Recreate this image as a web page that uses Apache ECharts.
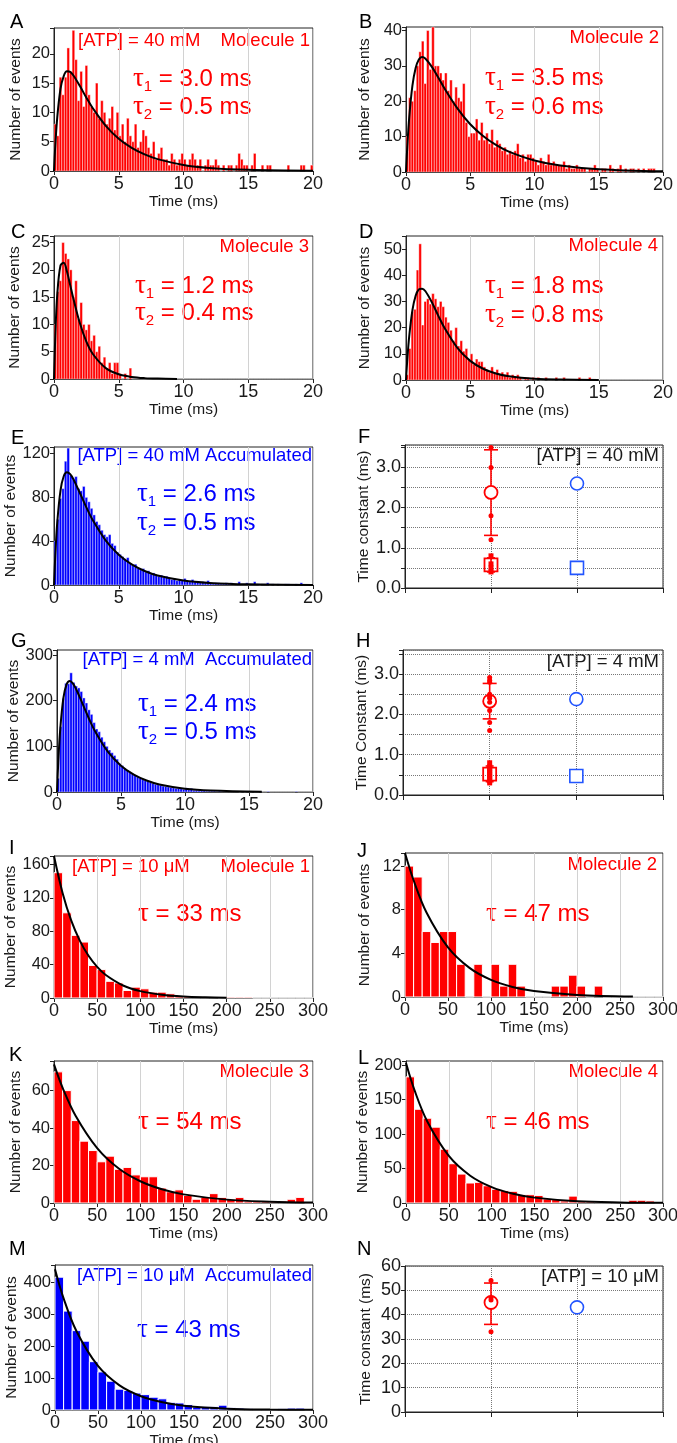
<!DOCTYPE html>
<html><head><meta charset="utf-8">
<script src="https://cdn.jsdelivr.net/npm/echarts@6/dist/echarts.min.js"></script>
<style>html,body{margin:0;padding:0;background:#fff}#c{width:677px;height:1443px}</style>
</head><body><div id="c"></div>
<script>
// ---------- DATA ----------
// 40 mM histograms: 0.2 ms bins, 0..20 ms
const histA = [8,6,16,13,16,21,17,24,19,12, 17,11,18,13,11,10,15,9,12,10, 8,9,11,7,10,6,8,5,9,6, 5,8,4,5,7,6,4,3,5,2,
  3,4,2,2,1,3,2,1,2,3, 2,1,2,3,2,1,2,0,1,2, 1,1,2,1,0,1,0,1,1,0, 1,3,2,1,1,0,1,3,0,0, 1,0,1,1,0,0,0,0,0,0, 1,0,0,0,0,1,1,0,0,1];
const histB = [10,21,20,23,30,34,37,25,40,29, 41,30,30,28,26,28,23,26,20,24, 21,20,25,14,10,11,11,15,9,14, 9,11,8,12,7,9,8,6,7,5,
  6,5,6,8,4,5,3,5,5,4, 3,2,4,3,2,5,2,3,2,2, 2,3,1,2,1,1,2,1,1,1, 0,1,1,2,1,0,1,1,0,2, 1,0,1,2,0,1,0,1,1,0, 1,0,1,0,1,1,1,0,0,0];
const histC = [10,16,18,25,23,22,20,15,18,11, 14,10,9,10,7,8,5,6,3,4, 2,3,1,3,3,1,0,1,0,2, 0,0,0,0,0,0,0,0,0,0,
  0,0,0,0,0,0,0,0,0,0, 0,0,0,0,0,0,0,0,0,0, 0,0,0,0,0,0,0,0,0,0, 0,0,0,0,0,0,0,0,0,0, 0,0,0,0,0,0,0,0,0,0, 0,0,0,0,0,0,0,0,0,0];
const histD = [2,12,26,27,42,52,21,30,31,29, 33,31,28,30,28,24,22,19,15,20, 13,15,11,12,8,10,6,8,7,7, 5,4,3,5,3,4,2,3,2,3,
  1,2,1,2,1,0,1,1,0,1, 0,1,0,0,1,0,0,0,1,0, 0,1,0,0,0,0,0,1,0,0, 0,1,0,0,0,0,0,0,0,0, 0,0,0,0,0,0,0,0,0,0, 0,0,0,0,0,0,0,0,0,0];
const histE = [40,60,79,88,113,125,100,97,99,88, 86,90,80,76,70,64,58,55,50,46, 44,46,38,36,30,28,26,24,25,20, 18,19,15,14,15,12,13,10,11,9,
  8,9,7,8,6,5,6,4,5,4, 6,4,3,5,3,3,2,3,2,4, 2,1,2,2,1,1,2,1,2,1, 1,3,1,1,2,1,1,3,1,0, 1,1,2,0,1,0,1,0,0,1, 1,0,0,1,0,2,0,0,0,0];
// 4 mM accumulated
const histG = [30,143,205,238,237,261,240,232,228,220, 206,195,180,170,152,138,132,120,110,100, 92,86,80,72,62,58,52,48,44,40, 36,33,30,27,25,23,21,19,17,16,
  15,13,12,11,10,9,8,8,7,6, 9,5,8,4,4,3,3,3,2,2, 2,2,1,2,1,1,1,1,1,1, 1,0,1,0,1,0,1,0,0,1, 0,0,1,0,0,0,0,0,0,0, 0,0,0,1,0,0,0,0,0,0];
// 10 uM histograms: 10 ms bins, 0..300 ms
const histI = [150,102,75,67,39,34,20,18,9,13, 11,7,7,5,3,2,1,1,1,0, 1,1,1,0,0,0,0,0,0,0];
const histJ = [12,11,6,5,6,6,3,0,3,0, 3,1,3,1,0,0,0,1,1,2, 1,0,1,0,0,0,0,0,0,0];
const histK = [70,60,44,33,28,22,25,18,19,15, 14,14,8,6,7,4,2,3,5,3, 2,3,1,1,1,1,1,2,3,0];
const histL = [183,136,123,110,78,57,42,29,30,25, 20,18,17,12,12,11,6,5,3,10, 3,2,1,1,1,1,4,4,3,0];
const histM = [415,309,248,215,151,119,90,65,61,53, 48,40,35,24,22,17,9,10,10,15, 7,6,4,2,2,2,5,6,6,0];

// fitted curves, [time, events]
const fitA = [[0,0],[0.1,4.3],[0.25,9.1],[0.5,14.0],[0.75,16.2],[1,17.0],[1.25,16.9],[1.5,16.3],[2,14.5],[2.5,12.5],[3,10.7],[4,7.7],[5,5.5],[6,3.95],[7,2.83],[8,2.03],[10,1.04],[12,0.53],[15,0.2],[20,0.04]];
const fitB = [[0,0],[0.1,7.1],[0.25,15.4],[0.5,24.4],[0.75,29.4],[1,31.8],[1.25,32.5],[1.5,32.1],[2,29.8],[2.5,26.8],[3,23.6],[4,18.0],[5,13.5],[6,10.2],[7,7.65],[8,5.76],[10,3.26],[12,1.84],[15,0.78],[20,0.19]];
const fitC = [[0,0],[0.1,7.9],[0.25,15.4],[0.5,20.8],[0.75,21.3],[1,19.7],[1.25,17.2],[1.5,14.7],[2,10.2],[2.5,6.84],[3,4.58],[4,1.99],[5,0.86],[6,0.38],[7,0.16],[8,0.07],[9.5,0.02]];
const fitD = [[0,0],[0.1,7.7],[0.25,16.7],[0.5,26.7],[0.75,32.2],[1,34.6],[1.25,34.9],[1.5,34.0],[2,29.8],[2.5,24.7],[3,19.9],[4,12.3],[5,7.3],[6,4.3],[7,2.46],[8,1.41],[10,0.46],[12,0.15],[15,0.03]];
const fitE = [[0,0],[0.1,27.1],[0.25,56.9],[0.5,86.2],[0.75,99.3],[1,102.9],[1.25,101.2],[1.5,96.6],[2,84.0],[2.5,70.9],[3,59.1],[4,40.5],[5,27.6],[6,18.8],[7,12.8],[8,8.7],[10,4.03],[12,1.87],[15,0.59],[20,0.09]];
const fitG = [[0,0],[0.1,65.1],[0.25,136.6],[0.5,206],[0.75,235.8],[1,242.9],[1.25,237.4],[1.5,225.1],[2,193],[2.5,160.5],[3,131.7],[4,87.4],[5,57.7],[6,38.1],[7,25.1],[8,16.5],[10,7.2],[12,3.1],[16,0.6]];
const fitI = [[0,170],[10,125.5],[20,92.6],[30,68.4],[40,50.5],[50,37.3],[60,27.5],[80,15],[100,8.2],[125,3.9],[150,1.8],[175,0.85],[200,0.4]];
const fitJ = [[0,13.2],[10,10.7],[25,7.75],[50,4.55],[75,2.67],[100,1.57],[125,0.92],[150,0.54],[200,0.19],[265,0.05]];
const fitK = [[0,74],[10,61.5],[25,46.6],[50,29.3],[75,18.4],[100,11.6],[125,7.3],[150,4.6],[200,1.8],[250,0.72],[300,0.29]];
const fitL = [[0,203],[10,163.3],[25,117.8],[50,68.3],[75,39.6],[100,23],[125,13.4],[150,7.8],[200,2.6],[250,0.88],[300,0.3]];
const fitM = [[0,440],[10,348.7],[25,246],[50,137.5],[75,76.9],[100,43],[125,24],[150,13.4],[200,4.2],[250,1.3],[300,0.4]];

// time constants (ms)
const tau1_40mM = [3.5, 3.0, 1.8, 1.2];
const tau2_40mM = [0.4, 0.5, 0.6, 0.8];
const tau1Mean40mM = [2.38, 1.31, 3.44];   // mean, lower, upper
const tau2Mean40mM = [0.575, 0.40, 0.75];
const accum40mM = [2.6, 0.5];              // tau1, tau2
const tau1_4mM = [2.92, 2.85, 2.8, 2.5, 2.45, 2.4, 2.3, 2.1, 1.8, 1.6];
const tau2_4mM = [0.3, 0.35, 0.4, 0.45, 0.5, 0.55, 0.6, 0.65, 0.7, 0.8];
const tau1Mean4mM = [2.33, 1.89, 2.77];
const tau2Mean4mM = [0.52, 0.33, 0.72];
const accum4mM = [2.38, 0.47];
const tau_10uM = [33, 46, 47, 54];
const tauMean10uM = [45, 36, 53];
const accum10uM = [43];

// ---------- STYLE / LAYOUT ----------
const FONT = 'Arial, "Liberation Sans", Helvetica, sans-serif';
const SERIF = '"Liberation Serif", "DejaVu Serif", serif';
const RED = '#ff0000', BLUE = '#0000ff', SBLUE = '#2255ff', INK = '#1a1a1a';

const hists = [
  {g:[54,28,259,143],  bins:histA, bw:0.2, xmax:20,  xint:5,  ymax:24.4, yint:5,   ng:30, fit:fitA, c:RED},
  {g:[406,27,257,145], bins:histB, bw:0.2, xmax:20,  xint:5,  ymax:41,   yint:10,  ng:33, fit:fitB, c:RED},
  {g:[54,236,259,143], bins:histC, bw:0.2, xmax:20,  xint:5,  ymax:26.2, yint:5,   ng:31, fit:fitC, c:RED},
  {g:[406,236,257,144],bins:histD, bw:0.2, xmax:20,  xint:5,  ymax:55,   yint:10,  ng:33, fit:fitD, c:RED},
  {g:[54,447,259,138], bins:histE, bw:0.2, xmax:20,  xint:5,  ymax:126,  yint:40,  ng:30, fit:fitE, c:BLUE},
  {g:[57,650,256,142], bins:histG, bw:0.2, xmax:20,  xint:5,  ymax:311,  yint:100, ng:33, fit:fitG, c:BLUE},
  {g:[54,856,259,142], bins:histI, bw:10,  xmax:300, xint:50, ymax:170,  yint:40,  ng:30, fit:fitI, c:RED},
  {g:[405,853,258,144],bins:histJ, bw:10,  xmax:300, xint:50, ymax:13.2, yint:4,   ng:32, fit:fitJ, c:RED},
  {g:[54,1061,259,142],bins:histK, bw:10,  xmax:300, xint:50, ymax:75.8, yint:20,  ng:30, fit:fitK, c:RED},
  {g:[406,1061,257,142],bins:histL,bw:10,  xmax:300, xint:50, ymax:206,  yint:50,  ng:35, fit:fitL, c:RED},
  {g:[55,1265,258,145],bins:histM, bw:10,  xmax:300, xint:50, ymax:453,  yint:100, ng:30, fit:fitM, c:BLUE}
];
const scatters = [
  {g:[405,445,258,143], ymax:3.56, yint:0.5, step:1, dec:1, name:'Time constant (ms)', ng:31,
   t1:tau1_40mM, t2:tau2_40mM, m1:tau1Mean40mM, m2:tau2Mean40mM, acc:accum40mM},
  {g:[403,650,260,145], ymax:3.6, yint:0.5, step:1, dec:1, name:'Time Constant (ms)', ng:31,
   t1:tau1_4mM, t2:tau2_4mM, m1:tau1Mean4mM, m2:tau2Mean4mM, acc:accum4mM},
  {g:[405,1266,258,146], ymax:60, yint:10, step:10, dec:0, name:'Time constant (ms)', ng:31,
   t1:tau_10uM, t2:null, m1:tauMean10uM, m2:null, acc:accum10uM}
];

function isMult(v, s){ const r = v / s; return Math.abs(r - Math.round(r)) < 1e-6; }
function ts(size){ return {fontSize:size, color:INK, fontFamily:FONT}; }

const grids = [], xAxes = [], yAxes = [], series = [];
function addGrid(g){
  grids.push({left:g[0], top:g[1], width:g[2], height:g[3], show:true, borderColor:'#222', borderWidth:1,
    backgroundColor:'transparent', containLabel:false, outerBoundsMode:'none'});
  return grids.length - 1;
}

hists.forEach(p => {
  const i = addGrid(p.g);
  xAxes.push({gridIndex:i, type:'value', min:0, max:p.xmax, interval:p.xint,
    name:'Time (ms)', nameLocation:'middle', nameGap:17, nameTextStyle:ts(15.5),
    axisLine:{show:true, onZero:false, lineStyle:{color:'#222', width:1}},
    axisTick:{show:true, length:4, lineStyle:{color:'#222'}},
    axisLabel:{...ts(18), margin:4},
    splitLine:{show:true, lineStyle:{color:'#d2d2d2', width:1}}});
  yAxes.push({gridIndex:i, type:'value', min:0, max:p.ymax, interval:p.yint,
    name:'Number of events', nameLocation:'middle', nameRotate:90, nameGap:p.ng, nameTextStyle:ts(15.5),
    axisLine:{show:true, onZero:false, lineStyle:{color:'#222', width:1}},
    axisTick:{show:true, length:4, lineStyle:{color:'#222'}},
    axisLabel:{...ts(16.5), margin:4, formatter:v => isMult(v, p.yint) ? String(Math.round(v)) : ''},
    splitLine:{show:false}});
  const sw = p.bw >= 1 ? 1 : 0.4;
  series.push({type:'custom', xAxisIndex:i, yAxisIndex:i, silent:true, z:2,
    data:p.bins.map((v, k) => [k * p.bw, (k + 1) * p.bw, v]),
    encode:{x:[0,1], y:2},
    renderItem:(params, api) => {
      const a = api.coord([api.value(0), api.value(2)]);
      const b = api.coord([api.value(1), 0]);
      return {type:'rect', shape:{x:a[0], y:a[1], width:b[0]-a[0], height:b[1]-a[1]},
        style:{fill:p.c, stroke:'#ffffff', lineWidth:sw}};
    }});
  series.push({type:'line', xAxisIndex:i, yAxisIndex:i, data:p.fit, smooth:0.35, symbol:'none', silent:true,
    z:5, lineStyle:{color:'#000', width:2}});
});

function errSeries(i, m, cap){
  return {type:'custom', xAxisIndex:i, yAxisIndex:i, silent:true, z:3,
    data:[[1, m[0], m[1], m[2]]], encode:{x:0, y:[1,2,3]},
    renderItem:(params, api) => {
      const t = api.coord([api.value(0), api.value(3)]);
      const b = api.coord([api.value(0), api.value(2)]);
      const st = {stroke:RED, lineWidth:1.6};
      return {type:'group', children:[
        {type:'line', shape:{x1:t[0], y1:t[1], x2:b[0], y2:b[1]}, style:st},
        {type:'line', shape:{x1:t[0]-cap, y1:t[1], x2:t[0]+cap, y2:t[1]}, style:st},
        {type:'line', shape:{x1:b[0]-cap, y1:b[1], x2:b[0]+cap, y2:b[1]}, style:st}]};
    }};
}
function sym(i, data, shape, size, fill, stroke, bw, z){
  return {type:'scatter', xAxisIndex:i, yAxisIndex:i, silent:true, z:z, symbol:shape, symbolSize:size,
    data:data, itemStyle:{color:fill, borderColor:stroke, borderWidth:bw, opacity:1}};
}

scatters.forEach(p => {
  const i = addGrid(p.g);
  xAxes.push({gridIndex:i, type:'value', min:0, max:3, interval:1,
    axisLine:{show:true, onZero:false, lineStyle:{color:'#222', width:1}},
    axisTick:{show:true, length:5, lineStyle:{color:'#222'}},
    axisLabel:{show:false},
    splitLine:{show:true, lineStyle:{color:'#777', type:'dotted', width:1}}});
  yAxes.push({gridIndex:i, type:'value', min:0, max:p.ymax, interval:p.yint,
    name:p.name, nameLocation:'middle', nameRotate:90, nameGap:p.ng, nameTextStyle:ts(15.5),
    axisLine:{show:true, onZero:false, lineStyle:{color:'#222', width:1}},
    axisTick:{show:true, length:4, lineStyle:{color:'#222'}},
    axisLabel:{...ts(18), margin:4, formatter:v => isMult(v, p.step) ? v.toFixed(p.dec) : ''},
    splitLine:{show:true, lineStyle:{color:'#777', type:'dotted', width:1}}});
  series.push(errSeries(i, p.m1, 7));
  if (p.m2) series.push(errSeries(i, p.m2, 4));
  series.push(sym(i, [[1, p.m1[0]]], 'circle', 13, '#ffffff', RED, 1.8, 4));
  if (p.m2) series.push(sym(i, [[1, p.m2[0]]], 'rect', 13, 'rgba(0,0,0,0)', RED, 1.8, 4));
  series.push(sym(i, p.t1.map(v => [1, v]), 'circle', 5, RED, RED, 0, 5));
  if (p.t2) series.push(sym(i, p.t2.map(v => [1, v]), 'rect', 5, RED, RED, 0, 5));
  series.push(sym(i, [[2, p.acc[0]]], 'circle', 13, '#ffffff', SBLUE, 1.6, 4));
  if (p.acc.length > 1) series.push(sym(i, [[2, p.acc[1]]], 'rect', 13, '#ffffff', SBLUE, 1.6, 4));
});

// ---------- TEXT ----------
const letters = [['A',10,22],['B',359,22],['C',11,232],['D',359,232],['E',11,438],['F',358,437],['G',11,641],
  ['H',356,641],['I',9,848],['J',357,851],['K',9,1055],['L',358,1058],['M',9,1249],['N',357,1249]];
const notes = [
  ['[ATP] = 40 mM', 78, 41, 'left', RED], ['Molecule 1', 310, 41, 'right', RED],
  ['Molecule 2', 659, 38, 'right', RED], ['Molecule 3', 309, 247, 'right', RED], ['Molecule 4', 658, 246, 'right', RED],
  ['[ATP] = 40 mM Accumulated', 312, 456, 'right', BLUE], ['[ATP] = 40 mM', 659, 456, 'right', INK],
  ['[ATP] = 4 mM  Accumulated', 312, 660, 'right', BLUE], ['[ATP] = 4 mM', 659, 662, 'right', INK],
  ['[ATP] = 10 μM', 72, 867, 'left', RED], ['Molecule 1', 310, 867, 'right', RED],
  ['Molecule 2', 657, 865, 'right', RED], ['Molecule 3', 309, 1072, 'right', RED], ['Molecule 4', 658, 1072, 'right', RED],
  ['[ATP] = 10 μM  Accumulated', 312, 1276, 'right', BLUE], ['[ATP] = 10 μM', 659, 1277, 'right', INK]
];
const taus = [
  [133,79,'1','3.0',RED],[133,107,'2','0.5',RED],[485,78,'1','3.5',RED],[485,107,'2','0.6',RED],
  [135,286,'1','1.2',RED],[135,313,'2','0.4',RED],[485,286,'1','1.8',RED],[485,315,'2','0.8',RED],
  [137,494,'1','2.6',BLUE],[137,523,'2','0.5',BLUE],[138,704,'1','2.4',BLUE],[138,732,'2','0.5',BLUE],
  [138,914,'','33',RED],[486,914,'','47',RED],[138,1122,'','54',RED],[486,1122,'','46',RED],[137,1330,'','43',BLUE]
];
const graphic = [];
letters.forEach(l => graphic.push({type:'text', x:l[1], y:l[2], silent:true,
  style:{text:l[0], fill:'#000', fontSize:20, fontFamily:FONT, align:'left', verticalAlign:'middle'}}));
notes.forEach(n => graphic.push({type:'text', x:n[1], y:n[2], silent:true,
  style:{text:n[0], fill:n[4], fontSize:18.5, fontFamily:FONT, align:n[3], verticalAlign:'middle'}}));
taus.forEach(t => {
  const c = t[4];
  const txt = t[2] ? `{t|τ}{s|${t[2]}}{m| = ${t[3]} ms}` : `{t|τ}{m| = ${t[3]} ms}`;
  graphic.push({type:'text', x:t[0], y:t[1], silent:true,
    style:{text:txt, align:'left', verticalAlign:'middle', fill:c,
      rich:{t:{fontFamily:SERIF, fontSize:27, fill:c, lineHeight:30},
            s:{fontFamily:FONT, fontSize:15, fill:c, lineHeight:15, verticalAlign:'bottom'},
            m:{fontFamily:FONT, fontSize:24, fill:c, lineHeight:30}}}});
});

const chart = echarts.init(document.getElementById('c'), null, {renderer:'canvas', width:677, height:1443});
chart.setOption({
  backgroundColor:'#ffffff', animation:false,
  textStyle:{fontFamily:FONT},
  grid:grids, xAxis:xAxes, yAxis:yAxes, series:series, graphic:graphic
});
</script></body></html>
